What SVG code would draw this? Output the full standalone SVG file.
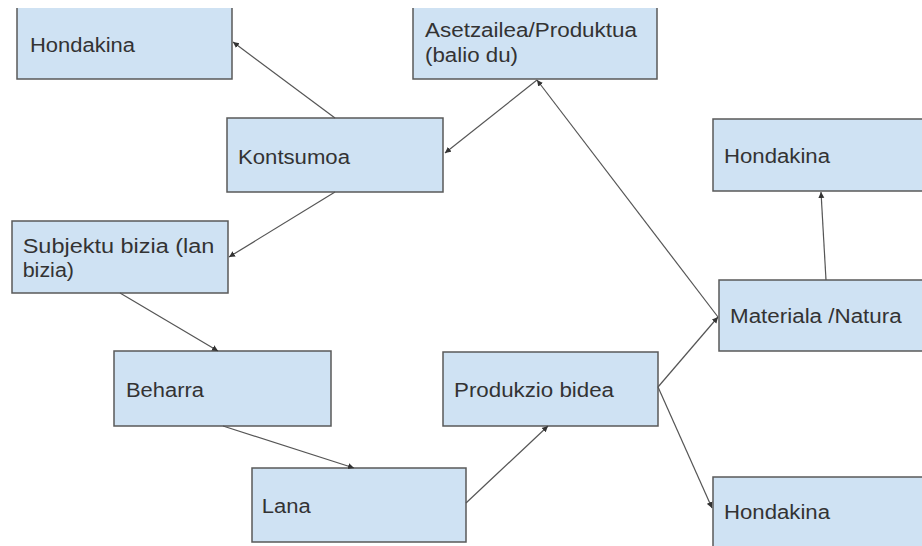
<svg xmlns="http://www.w3.org/2000/svg" width="922" height="546" viewBox="0 0 922 546">
<style>
.box{fill:#cfe2f3;stroke:#595959;stroke-width:1.5}
.fill{fill:#cfe2f3;stroke:none}
.edge{fill:none;stroke:#595959;stroke-width:1.5}
.lbl{font-family:"Liberation Sans",Arial,sans-serif;font-size:19.5px;fill:#333333}
.conn path{fill:none;stroke:#555555;stroke-width:1.2;marker-end:url(#ah)}
</style>
<defs>
<marker id="ah" markerUnits="userSpaceOnUse" markerWidth="7" markerHeight="7" refX="6" refY="3.5" orient="auto">
<path d="M0,0.5 L6,3.5 L0,6.5 z" fill="#333333"/>
</marker>
</defs>
<rect width="922" height="546" fill="#ffffff"/>
<g id="n-hondakina-tl">
<rect class="fill" x="17" y="8" width="215" height="71"/>
<path class="edge" d="M17,8 V79 H232 V8"/>
<text class="lbl" x="30" y="51.5" textLength="105" lengthAdjust="spacingAndGlyphs">Hondakina</text>
</g>
<g id="n-asetzailea">
<rect class="fill" x="413" y="8" width="244" height="71"/>
<path class="edge" d="M413,8 V79 H657 V8"/>
<text class="lbl" x="425" y="36.7" textLength="212" lengthAdjust="spacingAndGlyphs">Asetzailea/Produktua</text>
<text class="lbl" x="425" y="62" textLength="93" lengthAdjust="spacingAndGlyphs">(balio du)</text>
</g>
<g id="n-kontsumoa">
<rect class="box" x="227" y="118" width="216" height="74"/>
<text class="lbl" x="238" y="164" textLength="112" lengthAdjust="spacingAndGlyphs">Kontsumoa</text>
</g>
<g id="n-hondakina-tr">
<rect class="box" x="713" y="119" width="230" height="72"/>
<text class="lbl" x="724" y="163.3" textLength="106" lengthAdjust="spacingAndGlyphs">Hondakina</text>
</g>
<g id="n-subjektu">
<rect class="box" x="12" y="221" width="216" height="72"/>
<text class="lbl" x="22.7" y="253" textLength="191.7" lengthAdjust="spacingAndGlyphs">Subjektu bizia (lan</text>
<text class="lbl" x="22.7" y="277" textLength="51.3" lengthAdjust="spacingAndGlyphs">bizia)</text>
</g>
<g id="n-materiala">
<rect class="box" x="719" y="280" width="224" height="71"/>
<text class="lbl" x="730" y="323.3" textLength="171.7" lengthAdjust="spacingAndGlyphs">Materiala /Natura</text>
</g>
<g id="n-beharra">
<rect class="box" x="114" y="351" width="217" height="75"/>
<text class="lbl" x="126" y="396.7" textLength="78" lengthAdjust="spacingAndGlyphs">Beharra</text>
</g>
<g id="n-produkzio">
<rect class="box" x="443" y="352" width="215" height="74"/>
<text class="lbl" x="454" y="396.7" textLength="160" lengthAdjust="spacingAndGlyphs">Produkzio bidea</text>
</g>
<g id="n-lana">
<rect class="box" x="252" y="468" width="214" height="74"/>
<text class="lbl" x="261.7" y="513.3" textLength="49" lengthAdjust="spacingAndGlyphs">Lana</text>
</g>
<g id="n-hondakina-br">
<rect class="box" x="713" y="477" width="230" height="90"/>
<text class="lbl" x="724" y="519.3" textLength="106" lengthAdjust="spacingAndGlyphs">Hondakina</text>
</g>
<g id="connectors" class="conn">
<path d="M335,118 L233,42"/>
<path d="M537,80 L445,153"/>
<path d="M335,192 L229,257"/>
<path d="M120,293 L218,351"/>
<path d="M223,426 L354,468"/>
<path d="M466,503 L548,426"/>
<path d="M658,387 L718,317"/>
<path d="M658,387 L712,508"/>
<path d="M718,317 L537,80"/>
<path d="M826,280 L821,192"/>
</g>
</svg>
